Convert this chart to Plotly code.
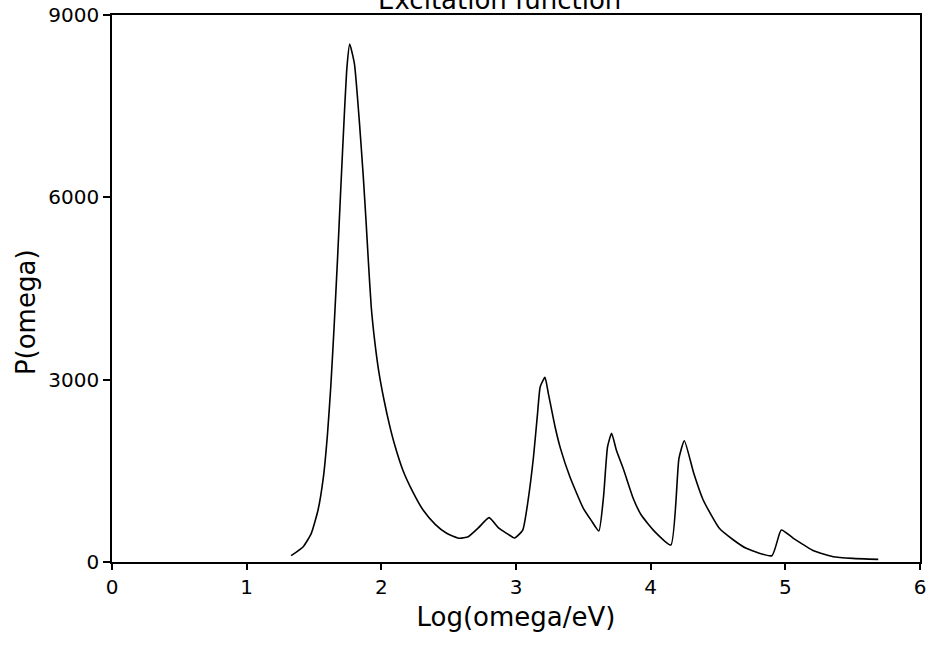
import plotly.graph_objects as go

log_omega = [1.33, 1.42, 1.48, 1.53, 1.57, 1.60, 1.625, 1.65, 1.675, 1.70, 1.725, 1.745, 1.765,
             1.80, 1.836, 1.866, 1.886, 1.905, 1.925, 1.95, 1.98, 2.02, 2.06, 2.10, 2.16, 2.23, 2.31, 2.40,
             2.485, 2.58, 2.645,
             2.72, 2.80, 2.87, 2.93, 2.99, 3.05, 3.09, 3.13, 3.16, 3.18, 3.215, 3.24, 3.29, 3.33,
             3.40, 3.50, 3.56, 3.615, 3.65, 3.68, 3.71, 3.745, 3.80, 3.87, 3.93, 4.03, 4.15,
             4.21, 4.25, 4.32, 4.39, 4.51, 4.61, 4.71, 4.90, 4.97, 5.06, 5.21, 5.355, 5.50, 5.69]
p_omega = [104, 252, 472, 855, 1400, 2100, 2900, 3900, 5000, 6200, 7350, 8150, 8520,
           8200, 7270, 6340, 5626, 4900, 4200, 3650, 3150, 2665, 2260, 1920, 1510, 1170, 855, 620,
           472, 390, 416,
           560, 730, 560, 472, 395, 526, 1020, 1732, 2446, 2884, 3038, 2775, 2226, 1870,
           1403, 883, 680, 510, 1074, 1897, 2117, 1842, 1513, 1050, 773, 500, 280,
           1706, 1996, 1459, 1020, 554, 370, 225, 104, 526, 390, 186, 87, 60, 44]

x_ticks = [0, 1, 2, 3, 4, 5, 6]
y_ticks = [0, 3000, 6000, 9000]

FONT = "DejaVu Sans"

fig = go.Figure()
fig.add_trace(go.Scatter(x=log_omega, y=p_omega, mode="lines",
                         line=dict(color="black", width=1.6, shape="spline", smoothing=0.5),
                         showlegend=False))

fig.update_layout(
    width=929, height=648,
    margin=dict(l=112, r=9, t=15, b=86),
    paper_bgcolor="white", plot_bgcolor="white",
    font=dict(family=FONT, color="black", size=20),
)
fig.update_xaxes(range=[0, 6], tickvals=x_ticks, ticks="outside", ticklen=6, tickwidth=1.5,
                 tickcolor="black", showline=True, linecolor="black", linewidth=1.5, mirror=True,
                 showgrid=False, zeroline=False, tickfont=dict(size=20, family=FONT), automargin=False,
                 title=dict(text="Log(omega/eV)", font=dict(size=26, family=FONT), standoff=10))
fig.update_yaxes(range=[0, 9000], tickvals=y_ticks, ticks="outside", ticklen=7, tickwidth=1.5,
                 tickcolor="black", showline=True, linecolor="black", linewidth=1.5, mirror=True,
                 showgrid=False, zeroline=False, tickfont=dict(size=20, family=FONT), automargin=False)
fig.add_annotation(text="P(omega)", textangle=-90, xref="paper", yref="paper",
                   x=-0.107, y=0.456, xanchor="center", yanchor="middle", showarrow=False,
                   font=dict(size=26, family=FONT))
fig.add_annotation(text="Excitation function", xref="paper", yref="paper",
                   x=0.48, y=1.0, yshift=-2, xanchor="center", yanchor="bottom", showarrow=False,
                   font=dict(size=26, family=FONT))

fig.write_html("out.html")
